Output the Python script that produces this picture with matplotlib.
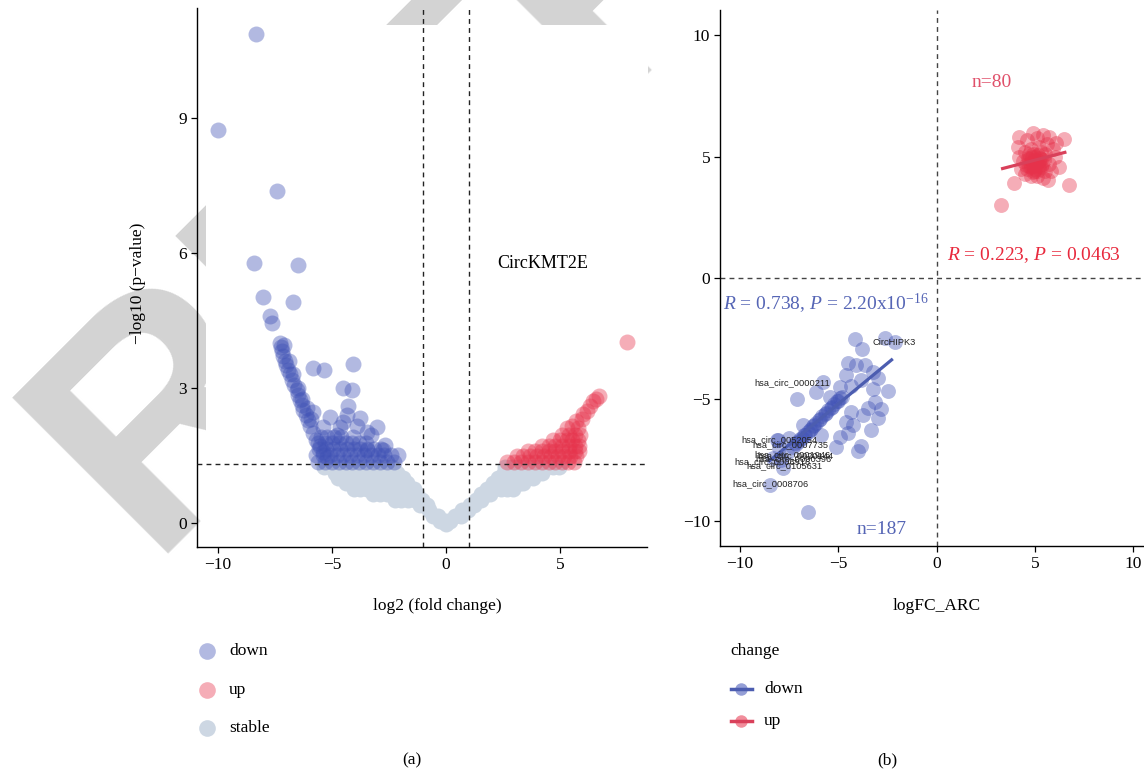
import matplotlib
matplotlib.use('Agg')
import matplotlib.pyplot as plt
from matplotlib.lines import Line2D
from matplotlib.patches import Rectangle

plt.rcParams['font.family'] = ['Liberation Serif', 'DejaVu Serif']
plt.rcParams['mathtext.fontset'] = 'custom'
plt.rcParams['mathtext.rm'] = 'Liberation Serif'
plt.rcParams['mathtext.it'] = 'Liberation Serif:italic'

# ---- panel (a): volcano plot ----
# scattered "down" genes
down_x = [-8.35, -9.99, -7.40, -8.42, -6.50, -8.01, -6.71, -7.72, -7.65,
          -7.28, -7.25, -7.21, -7.15, -7.06, -7.00, -6.92, -6.85, -6.77, -6.65,
          -6.55, -6.48, -6.40, -6.33, -6.26, -6.15, -6.04, -5.95, -5.82, -5.70,
          -5.53, -5.40, -5.23,
          -7.10, -6.90, -6.70, -6.50, -6.30, -6.10, -5.90,
          -5.82, -5.35, -4.07, -4.53, -4.14, -4.28, -5.82, -5.09, -4.36, -3.77,
          -3.04, -3.48, -4.65, -5.38, -4.79, -4.07, -2.68, -2.09, -2.75, -3.48,
          -4.50, -3.90, -3.30]
down_y = [10.86, 8.72, 7.38, 5.77, 5.73, 5.03, 4.92, 4.60, 4.44,
          3.99, 3.90, 3.81, 3.70, 3.59, 3.50, 3.40, 3.30, 3.18, 3.07,
          2.96, 2.85, 2.73, 2.62, 2.51, 2.40, 2.29, 2.15, 1.99, 1.85,
          1.70, 1.58, 1.47,
          3.95, 3.60, 3.30, 3.00, 2.75, 2.55, 2.30,
          3.44, 3.40, 3.53, 2.99, 2.96, 2.60, 2.47, 2.36, 2.40, 2.33,
          2.14, 2.03, 2.14, 2.14, 1.96, 1.92, 1.73, 1.51, 1.62, 1.62,
          2.25, 2.15, 1.95]
# dense "down" genes just above the p = 0.05 line: (y, [x...])
down_rows = [(1.36, [-5.6, -5.3, -5.0, -4.7, -4.4, -4.1, -3.8, -3.5, -3.2, -2.9, -2.6, -2.3]),
             (1.50, [-5.7, -5.4, -5.1, -4.8, -4.5, -4.2, -3.9, -3.6, -3.3, -3.0, -2.7, -2.4]),
             (1.64, [-5.55, -5.25, -4.95, -4.65, -4.35, -4.05, -3.75, -3.45, -3.15, -2.85]),
             (1.78, [-5.6, -5.3, -5.0, -4.7, -4.4, -4.1, -3.8, -3.5]),
             (1.92, [-5.5, -5.2, -4.9, -4.6])]

up_x = [5.3, 5.55, 5.8, 5.7, 5.95, 6.0, 6.17, 6.3, 6.45, 6.6, 6.7, 7.95]
up_y = [2.10, 2.15, 2.12, 2.26, 2.30, 2.42, 2.48, 2.60, 2.70, 2.76, 2.82, 4.03]
up_rows = [(1.36, [2.7, 3.0, 3.3, 3.6, 3.9, 4.2, 4.5, 4.8, 5.1, 5.35, 5.6]),
           (1.48, [3.1, 3.4, 3.7, 4.0, 4.3, 4.6, 4.9, 5.2, 5.45, 5.7]),
           (1.60, [3.6, 3.9, 4.2, 4.5, 4.8, 5.1, 5.4, 5.65, 5.85]),
           (1.72, [4.2, 4.5, 4.8, 5.1, 5.4, 5.65, 5.85]),
           (1.84, [4.7, 5.0, 5.3, 5.55, 5.8]),
           (1.96, [5.1, 5.4, 5.65, 5.9])]

stable_rows = [(1.24, [-5.35, -5.05, -4.75, -4.45, -4.15, -3.85, -3.55, -3.25, -2.95, -2.65, -2.35,
                       2.6, 2.9, 3.2, 3.5, 3.8, 4.1, 4.4, 4.7, 4.95]),
               (1.12, [-4.85, -4.55, -4.25, -3.95, -3.65, -3.35, -3.05, -2.75, -2.45, -2.15,
                       2.55, 2.85, 3.15, 3.45, 3.75, 4.05, 4.2]),
               (1.00, [-4.75, -4.45, -4.15, -3.85, -3.55, -3.25, -2.95, -2.65, -2.35, -2.05, -1.9,
                       2.3, 2.6, 2.9, 3.2, 3.5, 3.8]),
               (0.88, [-4.4, -4.1, -3.8, -3.5, -3.2, -2.9, -2.6, -2.3, -2.0, -1.7,
                       2.05, 2.35, 2.65, 2.95, 3.25, 3.4]),
               (0.76, [-4.05, -3.75, -3.45, -3.15, -2.85, -2.55, -2.25, -1.95, -1.65, -1.4,
                       1.8, 2.1, 2.4, 2.7, 2.95]),
               (0.64, [-3.2, -2.9, -2.6, -2.3, -2.0, -1.7, -1.4, -1.25, 1.55, 1.8, 1.95]),
               (0.52, [-2.25, -1.95, -1.65, -1.35, -1.05, 1.3, 1.55]),
               (0.40, [-1.15, -0.85, 1.05, 1.25]),
               (0.28, [-0.75, 0.7, 0.95]),
               (0.16, [-0.55, -0.35, 0.4, 0.65]),
               (0.04, [-0.25, 0.0, 0.2]),
               (-0.02, [0.0])]

# ---- panel (b): logFC correlation ----
b_down_x = [-4.16, -2.64, -2.13, -3.77, -4.50, -4.08, -3.65, -3.23, -4.58, -2.98,
            -3.82, -5.77, -4.33, -4.92, -3.23, -2.47, -6.14, -5.43, -7.07, -3.15,
            -2.81, -3.49, -4.33, -3.74, -2.98, -4.58, -4.25, -6.79, -5.85, -4.92,
            -4.50, -5.09, -3.82, -4.00, -8.06, -7.80, -8.48, -6.53, -3.31,
            -8.30, -7.90, -8.00, -7.60, -7.50, -8.10,
            -7.3, -7.15, -7.0, -6.85, -6.7, -6.55, -6.4, -6.25, -6.1, -5.95, -5.8,
            -5.65, -5.5, -5.35, -5.2, -5.05, -4.9, -4.8,
            -7.2, -6.95, -6.75, -6.45, -6.2, -5.9, -5.6, -5.3, -5.0]
b_down_y = [-2.52, -2.48, -2.62, -2.94, -3.51, -3.58, -3.58, -3.85, -3.99, -4.13,
            -4.20, -4.27, -4.44, -4.50, -4.58, -4.64, -4.68, -4.88, -4.99, -5.09,
            -5.40, -5.36, -5.50, -5.64, -5.77, -5.91, -6.05, -6.05, -6.46, -6.53,
            -6.39, -6.94, -6.91, -7.11, -6.67, -7.83, -8.52, -9.64, -6.26,
            -7.40, -7.50, -7.00, -7.20, -6.60, -6.65,
            -6.95, -6.82, -6.70, -6.58, -6.45, -6.33, -6.20, -6.08, -5.95, -5.83, -5.70,
            -5.58, -5.45, -5.33, -5.20, -5.08, -4.95, -4.88,
            -6.78, -6.62, -6.48, -6.25, -6.03, -5.80, -5.55, -5.30, -5.05]

b_up_x = [3.28, 3.96, 6.72, 6.24, 6.50, 4.89, 4.21, 5.40, 5.74, 4.13, 6.08, 5.65,
          4.6, 5.1, 5.6, 4.5, 4.8, 5.2, 5.5, 4.4, 4.7, 5.0, 5.3, 5.7, 4.6, 4.9,
          5.2, 5.5, 4.8, 5.1, 5.4, 4.3, 5.0, 4.7, 5.2, 4.9, 5.3, 4.5, 5.8, 6.0,
          4.2, 5.9, 4.95, 5.15,
          4.75, 4.85, 5.05, 5.25, 4.65, 4.95, 5.15, 5.35, 4.8, 5.0, 5.2, 4.9, 5.1,
          4.55, 5.45, 4.7, 5.3]
b_up_y = [3.00, 3.92, 3.83, 4.56, 5.71, 5.95, 5.79, 5.88, 5.81, 5.40, 5.54, 4.03,
          5.7, 5.75, 5.5, 5.2, 5.3, 5.4, 5.1, 4.8, 4.9, 5.0, 4.9, 4.7, 4.5, 4.6,
          4.5, 4.4, 4.2, 4.2, 4.1, 4.5, 4.8, 4.6, 4.8, 5.1, 5.2, 4.3, 4.4, 5.0,
          5.0, 5.3, 4.4, 4.65,
          4.75, 5.0, 4.7, 4.95, 4.95, 4.85, 5.05, 4.7, 4.55, 4.5, 4.6, 4.35, 4.4,
          4.65, 4.85, 5.1, 4.55]

# regression lines: x from, x to, slope, intercept
fit_down = (-8.54, -2.22, 0.67, -1.84)
fit_up = (3.28, 6.60, 0.21, 3.80)

gene_labels = ['CircHIPK3', 'hsa_circ_0000211', 'hsa_circ_0052054', 'hsa_circ_0007735',
               'hsa_circ_0001946', 'hsa_circ_0020144', 'hsa_circ_0000396',
               'hsa_circ_0006916', 'hsa_circ_0105631', 'hsa_circ_0008706']
gene_x = [-2.17, -7.32, -7.98, -7.42, -7.32, -7.17, -7.27, -8.33, -7.73, -8.43]
gene_y = [-2.67, -4.32, -6.67, -6.87, -7.28, -7.33, -7.45, -7.57, -7.74, -8.48]

down_c = '#3F51B5'
up_c = '#E6324B'
stable_c = '#CDD7E3'


def expand(rows):
    xs, ys = [], []
    for y, row in rows:
        xs += row
        ys += [y] * len(row)
    return xs, ys


W, H = 1144, 775
fig = plt.figure(figsize=(W / 100, H / 100), dpi=100)


def fx(px):
    return px / W


def fy(py):
    return 1 - py / H


# watermark, hidden under the panels
fig.text(fx(148), fy(554), 'RETRACTED', rotation=45, rotation_mode='anchor',
         ha='left', va='baseline', fontsize=230, fontweight='bold',
         family='Liberation Sans', color='#d3d3d3', zorder=-3)
fig.add_artist(Rectangle((fx(206), 0), fx(648) - fx(206), fy(25),
                         transform=fig.transFigure, facecolor='white',
                         edgecolor='none', zorder=-2))
fig.add_artist(Rectangle((fx(715), 0), 1 - fx(715), fy(30),
                         transform=fig.transFigure, facecolor='white',
                         edgecolor='none', zorder=-2))


def style(ax):
    ax.set_facecolor('none')
    for s in ['top', 'right']:
        ax.spines[s].set_visible(False)
    for s in ['left', 'bottom']:
        ax.spines[s].set_linewidth(1.0)
    ax.tick_params(direction='out', length=4, width=0.9, labelsize=12.5, pad=3)


dash = (0, (3.5, 3))

ax1 = fig.add_axes([fx(197), fy(547), (647 - 197) / W, (547 - 8) / H])
style(ax1)
sx, sy = expand(stable_rows)
ax1.scatter(sx, sy, s=132, c=stable_c, linewidths=0, zorder=1)
dx, dy = expand(down_rows)
ax1.scatter(down_x + dx, down_y + dy, s=132, c=down_c, alpha=0.4, linewidths=0, zorder=2)
ux, uy = expand(up_rows)
ax1.scatter(up_x + ux, up_y + uy, s=132, c=up_c, alpha=0.4, linewidths=0, zorder=2)
ax1.axhline(1.301, color='#222222', lw=1, ls=dash, zorder=3)
ax1.axvline(-1, color='#222222', lw=1, ls=dash, zorder=3)
ax1.axvline(1, color='#222222', lw=1, ls=dash, zorder=3)
ax1.set_xlim(-10.92, 8.82)
ax1.set_ylim(-0.533, 11.44)
ax1.set_xticks([-10, -5, 0, 5])
ax1.set_yticks([0, 3, 6, 9])
ax1.text(2.24, 5.76, 'CircKMT2E', fontsize=13, va='center', ha='left')
ax1.set_xlabel('log2 (fold change)', fontsize=12.5)
ax1.xaxis.set_label_coords((437 - 197) / 450, (547 - 598) / 539)
ax1.set_ylabel('\u2212log10 (p\u2212value)', fontsize=12.5)
ax1.yaxis.set_label_coords((146 - 197) / 450, 0.49)

ax2 = fig.add_axes([fx(720), fy(546), 433 / W, 536 / H])
style(ax2)
ax2.axhline(0, color='#444444', lw=1, ls=dash, zorder=1)
ax2.axvline(0, color='#444444', lw=1, ls=dash, zorder=1)
ax2.scatter(b_down_x, b_down_y, s=115, c=down_c, alpha=0.4, linewidths=0, zorder=2)
ax2.scatter(b_up_x, b_up_y, s=115, c=up_c, alpha=0.4, linewidths=0, zorder=2)
for (x0, x1, k, b0), col in [(fit_down, '#4C5DB0'), (fit_up, '#D9405A')]:
    ax2.plot([x0, x1], [k * x0 + b0, k * x1 + b0], color=col, lw=2.3,
             solid_capstyle='butt', zorder=3)
for lab, gx, gy in zip(gene_labels, gene_x, gene_y):
    ax2.text(gx, gy, lab, fontsize=6.7, family='Liberation Sans', color='#222222',
             ha='center', va='center', zorder=4)
ax2.set_xlim(-11, 11)
ax2.set_ylim(-11.03, 11.03)
ax2.set_xticks([-10, -5, 0, 5, 10])
ax2.set_yticks([-10, -5, 0, 5, 10])
ax2.text(-10.85, -1.05, r'$\it{R}$ = 0.738, $\it{P}$ = 2.20x10$^{-16}$',
         color='#5565B5', fontsize=14, va='center', ha='left')
ax2.text(0.55, 0.95, r'$\it{R}$ = 0.223, $\it{P}$ = 0.0463',
         color='#E8283C', fontsize=14, va='center', ha='left')
ax2.text(1.8, 8.05, 'n=80', color='#E0506A', fontsize=14, ha='left', va='center')
ax2.text(-4.05, -10.35, 'n=187', color='#5565B5', fontsize=14, ha='left', va='center')
ax2.set_xlabel('logFC_ARC', fontsize=12.5)
ax2.xaxis.set_label_coords(0.501, (546 - 598) / 536)

# legend (a)
for lab, col, py in [('down', down_c, 651), ('up', up_c, 690), ('stable', stable_c, 728)]:
    a = 1.0 if lab == 'stable' else 0.4
    fig.add_artist(Line2D([fx(207)], [fy(py)], marker='o', ms=12, mec='none',
                          mfc=col, alpha=a, transform=fig.transFigure))
    fig.text(fx(229), fy(py), lab, fontsize=12.5, va='center', ha='left')

# legend (b)
fig.text(fx(730), fy(651), 'change', fontsize=12.5, va='center', ha='left')
for lab, col, lcol, py in [('down', down_c, '#4C5DB0', 689), ('up', up_c, '#D9405A', 721)]:
    fig.add_artist(Line2D([fx(741)], [fy(py)], marker='o', ms=9, mec='none',
                          mfc=col, alpha=0.55, transform=fig.transFigure))
    fig.add_artist(Line2D([fx(731), fx(752)], [fy(py), fy(py)], lw=2.5, color=lcol,
                          transform=fig.transFigure))
    fig.text(fx(764), fy(py), lab, fontsize=12.5, va='center', ha='left')

fig.text(fx(412), fy(760), '(a)', fontsize=12.5, ha='center', va='center')
fig.text(fx(887), fy(760), '(b)', fontsize=12.5, ha='center', va='center')

fig.savefig('out.png', dpi=100)
